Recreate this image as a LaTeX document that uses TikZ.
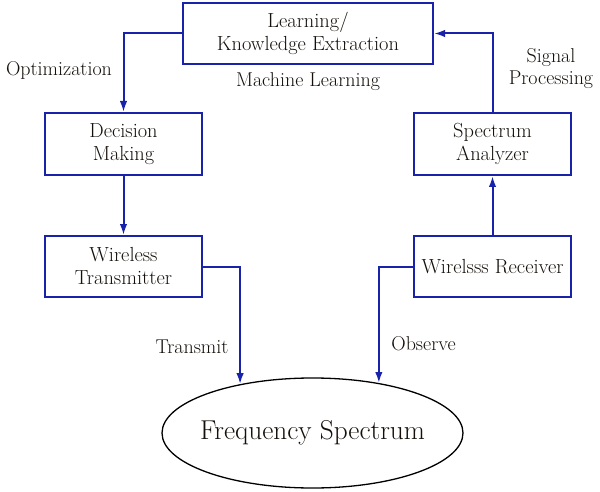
\documentclass[tikz,border=0pt]{standalone}
\usetikzlibrary{arrows.meta,shapes.geometric}
\definecolor{lineblue}{RGB}{25,35,170}
\definecolor{txt}{RGB}{20,15,10}
\tikzset{
  stagebox/.style={draw=lineblue,line width=2pt,rectangle,align=center,inner sep=0pt,text=txt,font=\fontsize{20.4}{23}\selectfont},
  flow/.style={draw=lineblue,line width=2pt,-{Latex[length=11pt,width=7.5pt]}},
  lbl/.style={text=txt,align=center,font=\fontsize{20}{22}\selectfont}
}
\begin{document}
\begin{tikzpicture}[x=1pt,y=-1pt]
\useasboundingbox (0,0) rectangle (600,492);
\node[stagebox,minimum width=250pt,minimum height=61pt] (top) at (308,33.5) {Learning/\\Knowledge Extraction};
\node[stagebox,minimum width=157pt,minimum height=62pt] (dec) at (123.5,144) {Decision\\Making};
\node[stagebox,minimum width=157pt,minimum height=61pt] (tx) at (123.5,266.5) {Wireless\\Transmitter};
\node[stagebox,minimum width=157pt,minimum height=62pt] (sa) at (492.5,144) {Spectrum\\Analyzer};
\node[stagebox,minimum width=157pt,minimum height=61pt] (rx) at (492.5,266.5) {Wirelsss Receiver};
\node[draw=black,line width=1.3pt,ellipse,minimum width=301pt,minimum height=110pt,inner sep=0pt] (spec) at (312.5,433) {};
\node[text=txt,font=\fontsize{27.3}{30}\selectfont] (spectext) at (spec.center) {Frequency Spectrum};

\draw[flow] (top.west) -| (dec.north);
\draw[flow] (dec.south) -- (tx.north);
\draw[flow] (tx.east) -| (spec.146);
\draw[flow] (rx.west) -| (spec.37.6);
\draw[flow] (rx.north) -- (sa.south);
\draw[flow] (sa.north) |- (top.east);

\node[lbl] (opt) at (59,70) {Optimization};
\node[lbl] (ml) at (308,82) {Machine Learning};
\node[lbl] (sp) at (551,69) {Signal\\Processing};
\node[lbl] (tr) at (192,347) {Transmit};
\node[lbl] (ob) at (423.5,344) {Observe};
\end{tikzpicture}
\end{document}
